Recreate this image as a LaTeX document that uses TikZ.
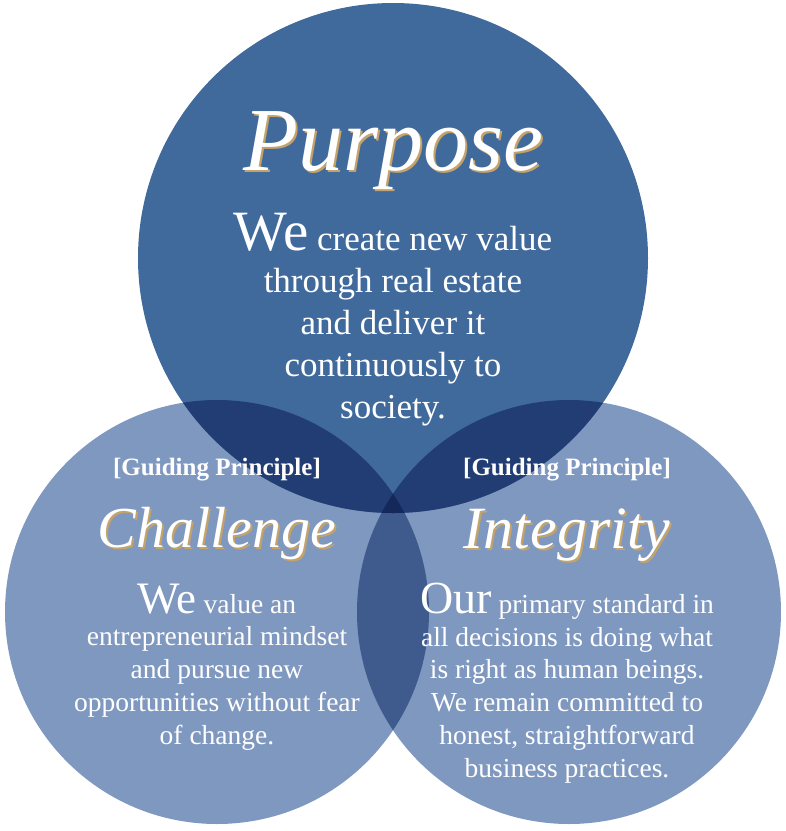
\documentclass[tikz,border=0pt]{standalone}
\usepackage{fontspec}
\setmainfont{Liberation Serif}
\definecolor{topblue}{HTML}{416A9C}
\definecolor{lowblue}{HTML}{7F98C0}
\definecolor{lensblue}{HTML}{3F5A8C}
\definecolor{deepblue}{HTML}{213D73}
\definecolor{inkblue}{HTML}{14295A}
\definecolor{gold}{HTML}{C4A36B}

\begin{document}
\begin{tikzpicture}[
  x=1pt, y=-1pt,
  title/.style={text=white, font=\itshape\fontsize{#1}{#1}\selectfont, inner sep=0pt, anchor=base},
  titleshade/.style={text=gold, font=\itshape\fontsize{#1}{#1}\selectfont, inner sep=0pt, anchor=base},
  tag/.style={text=white, font=\bfseries\fontsize{25}{25}\selectfont, inner sep=0pt, anchor=base},
  bodytext/.style={text=white, align=center, inner sep=0pt, anchor=base}
]
\useasboundingbox (0,0) rectangle (786,831);

\coordinate (ctop) at (393,258);
\coordinate (cleft) at (217,612);
\coordinate (cright) at (569,612);

\fill[lowblue] (cleft) circle (212pt);
\fill[lowblue] (cright) circle (212pt);
\begin{scope}
  \clip (cleft) circle (212pt);
  \fill[lensblue] (cright) circle (212pt);
\end{scope}
\fill[topblue] (ctop) circle (255pt);
\begin{scope}
  \clip (ctop) circle (255pt);
  \fill[deepblue] (cleft) circle (212pt);
  \fill[deepblue] (cright) circle (212pt);
  \clip (cleft) circle (212pt);
  \fill[inkblue] (cright) circle (212pt);
\end{scope}

\node[titleshade=90] (purposeshade) at (395,172) {Purpose};
\node[title=90] (purpose) at (393,170) {Purpose};
\node[bodytext, font=\fontsize{35}{42}\selectfont] (purposetext) at (393,418)
  {{\fontsize{57}{57}\selectfont We} create new value\\through real estate\\and deliver it\\continuously to\\society.};

\node[tag] (challengetag) at (217,475) {[Guiding Principle]};
\node[titleshade=58] (challengeshade) at (219,549) {Challenge};
\node[title=58] (challenge) at (217,547) {Challenge};
\node[bodytext, font=\fontsize{27.5}{32.7}\selectfont] (challengetext) at (217,744)
  {{\fontsize{45}{45}\selectfont We} value an\\entrepreneurial mindset\\and pursue new\\opportunities without fear\\of change.};

\node[tag] (integritytag) at (567,475) {[Guiding Principle]};
\node[titleshade=60] (integrityshade) at (569,550) {Integrity};
\node[title=60] (integrity) at (567,548) {Integrity};
\node[bodytext, font=\fontsize{27.5}{32.7}\selectfont] (integritytext) at (567,777)
  {{\fontsize{46}{46}\selectfont Our} primary standard in\\all decisions is doing what\\is right as human beings.\\We remain committed to\\honest, straightforward\\business practices.};
\end{tikzpicture}
\end{document}
